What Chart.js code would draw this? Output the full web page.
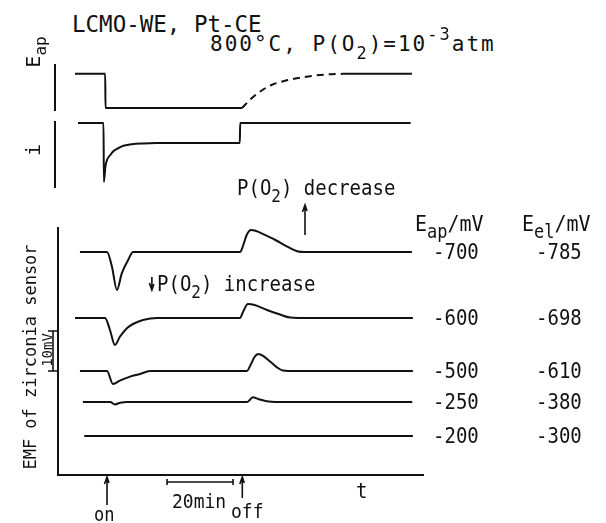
<!DOCTYPE html>
<html>
<head>
<meta charset="utf-8">
<script src="https://cdn.jsdelivr.net/npm/chart.js@4.4.0/dist/chart.umd.min.js"></script>
<style>
  html, body { margin: 0; padding: 0; background: #fff; }
  #fig { position: relative; width: 606px; height: 523px; overflow: hidden;
         font-family: "DejaVu Sans Mono", monospace; color: #111; }
  #fig canvas { position: absolute; left: 0; }
  #eapChart { top: 60px; }
  #iChart { top: 117px; }
  #emfChart { top: 195px; }
  .lbl { position: absolute; white-space: nowrap; line-height: 1; }
  .tall { transform: scaleY(1.1); transform-origin: 0 85%; }
  .sub { position: relative; }
</style>
</head>
<body>
<div id="fig">
  <canvas id="eapChart" width="606" height="55"></canvas>
  <canvas id="iChart" width="606" height="75"></canvas>
  <canvas id="emfChart" width="606" height="328"></canvas>
</div>
<script>
// time in minutes, current switched on at t=0 and off at t=41
const tOn = 0;
const tOff = 41;

// applied voltage (relative units, 1 = rest level)
const eapStepT = [-9.7, -0.55, -0.45, 40.9];
const eapStepV = [1, 1, 0, 0];
const eapDashT = [40.9, 44, 47, 50, 54, 58, 63, 68, 71.5];
const eapDashV = [0, 0.3, 0.52, 0.68, 0.8, 0.88, 0.95, 0.99, 1];
const eapEndT = [71.5, 92.4];
const eapEndV = [1, 1];

// current (relative units, 0 = off)
const curT = [-8.8, -1.05, -0.95, -0.5, 0, 1, 2, 3.5, 5, 7.5, 11, 15, 40.25, 40.35, 92];
const curV = [0, 0, -2.95, -2.2, -1.85, -1.6, -1.4, -1.25, -1.14, -1.06, -1.02, -1, -1, 0, 0];

// EMF of zirconia sensor, change in mV for each applied voltage
const emfT700 = [-8.2, 0, 1.5, 3, 4.5, 6.4, 7.9, 40.3, 41.2, 42.3, 43.6, 45, 48, 51, 54, 57.6, 60, 92.4];
const emfV700 = [0, 0, -3.7, -9.5, -5.3, -2, 0, 0, 1.5, 4.2, 5.5, 5.3, 4.2, 3, 1.6, 0.2, 0, 0];
const emfT600 = [-9.7, -0.6, 0.9, 2.4, 3.9, 6.1, 7.9, 10.9, 15.2, 40.3, 41.2, 42.7, 44.5, 48.5, 52, 55.5, 58, 92.7];
const emfV600 = [0, 0, -3, -6.75, -4.7, -2.5, -1.5, -0.5, 0, 0, 1.5, 3.5, 3.3, 2, 1, 0.1, 0, 0];
const emfT500 = [-8.2, 0, 1.8, 3.9, 7, 10, 13, 42.4, 43.5, 44.7, 45.8, 47.3, 49.5, 51.5, 53.3, 55, 92.7];
const emfV500 = [0, 0, -3.25, -2.4, -1.4, -0.75, 0, 0, 1.5, 3.5, 4.25, 3.8, 2.3, 0.9, 0.1, 0, 0];
const emfT250 = [-7.3, 1, 2.4, 4, 6, 42.5, 44.2, 46, 49, 51, 92.5];
const emfV250 = [0, 0, -0.6, -0.2, 0, 0, 1.2, 0.7, 0.1, 0, 0];
const emfT200 = [-6.9, 92.7];
const emfV200 = [0, 0];

const eapLevels = ["-700", "-600", "-500", "-250", "-200"];
const eelLevels = ["-785", "-698", "-610", "-380", "-300"];

// layout: where each EMF trace sits above the time axis (mV)
const emfOffsets = [55.75, 39.25, 26, 18.25, 9.75];
const emfScaleBarMv = 10;
const timeScaleBarMin = 20;

const ink = "#111";
const onPx = 107;      // pixel of t=0
const pxPerMin = 3.3;
const rightPx = 423;

function pts(ts, vs, off) {
  off = off || 0;
  return ts.map((t, i) => ({ x: t, y: vs[i] + off }));
}

function line(data, extra) {
  return Object.assign({
    data: data,
    borderColor: ink,
    borderWidth: 2,
    pointRadius: 0,
    fill: false,
    cubicInterpolationMode: "monotone",
  }, extra || {});
}

function panelOptions(leftPx, pad, yMin, yMax, showX) {
  const hidden = { display: false, drawTicks: false };
  return {
    responsive: false,
    animation: false,
    layout: { autoPadding: false, padding: pad },
    plugins: { legend: { display: false }, tooltip: { enabled: false } },
    scales: {
      x: {
        type: "linear",
        min: (leftPx - onPx) / pxPerMin,
        max: (rightPx - onPx) / pxPerMin,
        display: showX,
        grid: hidden,
        ticks: { display: false },
        border: { display: true, color: ink, width: 2 },
      },
      y: {
        type: "linear",
        min: yMin,
        max: yMax,
        grid: hidden,
        ticks: { display: false },
        border: { display: true, color: ink, width: 2 },
      },
    },
  };
}

// applied voltage panel
new Chart(document.getElementById("eapChart"), {
  type: "line",
  data: {
    datasets: [
      line(pts(eapStepT, eapStepV)),
      line(pts(eapDashT, eapDashV), { borderDash: [7, 5] }),
      line(pts(eapEndT, eapEndV)),
    ],
  },
  options: panelOptions(55, { left: 55, right: 606 - rightPx, top: 5, bottom: 5 }, -0.06, 1.26, false),
});

// current panel
new Chart(document.getElementById("iChart"), {
  type: "line",
  data: { datasets: [line(pts(curT, curV))] },
  options: panelOptions(55, { left: 55, right: 606 - rightPx, top: 5, bottom: 5 }, -3.2, 0.05, false),
});

// arrows and scale bars under / beside the EMF panel
function arrow(ctx, x, yTip, yTail) {
  const dir = yTail > yTip ? 1 : -1;
  ctx.beginPath();
  ctx.moveTo(x, yTail);
  ctx.lineTo(x, yTip);
  ctx.moveTo(x - 2.5, yTip + dir * 7);
  ctx.lineTo(x, yTip);
  ctx.lineTo(x + 2, yTip + dir * 6);
  ctx.stroke();
}

const markPlugin = {
  id: "marks",
  afterDraw(chart) {
    const { ctx, chartArea, scales } = chart;
    const x = scales.x, y = scales.y;
    ctx.save();
    ctx.strokeStyle = ink;
    ctx.lineWidth = 1.6;
    // 10 mV bar
    const yb0 = y.getPixelForValue(emfOffsets[2]);
    const yb1 = y.getPixelForValue(emfOffsets[2] + emfScaleBarMv);
    const xb = chartArea.left - 5;
    ctx.beginPath();
    ctx.moveTo(xb, yb0); ctx.lineTo(xb, yb1);
    ctx.moveTo(xb - 5, yb0); ctx.lineTo(chartArea.left, yb0);
    ctx.moveTo(xb - 5, yb1); ctx.lineTo(chartArea.left, yb1);
    ctx.stroke();
    // 20 min bar
    const xs0 = x.getPixelForValue(18.2);
    const xs1 = x.getPixelForValue(18.2 + timeScaleBarMin);
    const ys = chartArea.bottom + 7;
    ctx.beginPath();
    ctx.moveTo(xs0, ys); ctx.lineTo(xs1, ys);
    ctx.moveTo(xs0, ys - 3); ctx.lineTo(xs0, ys + 3);
    ctx.moveTo(xs1, ys - 3); ctx.lineTo(xs1, ys + 3);
    ctx.stroke();
    // on / off arrows
    arrow(ctx, x.getPixelForValue(tOn), chartArea.bottom + 2, chartArea.bottom + 30);
    arrow(ctx, x.getPixelForValue(tOff), chartArea.bottom + 2, chartArea.bottom + 23);
    // P(O2) decrease / increase arrows
    arrow(ctx, x.getPixelForValue(60), chartArea.top - 23, chartArea.top + 7);
    arrow(ctx, x.getPixelForValue(13.6), chartArea.top + 62, chartArea.top + 49);
    ctx.restore();
  },
};

const emfChart = new Chart(document.getElementById("emfChart"), {
  type: "line",
  data: {
    datasets: [
      line(pts(emfT700, emfV700, emfOffsets[0])),
      line(pts(emfT600, emfV600, emfOffsets[1])),
      line(pts(emfT500, emfV500, emfOffsets[2])),
      line(pts(emfT250, emfV250, emfOffsets[3])),
      line(pts(emfT200, emfV200, emfOffsets[4])),
    ],
  },
  options: panelOptions(58, { left: 58, right: 606 - rightPx, top: 33, bottom: 48 }, 0, 61.75, true),
  plugins: [markPlugin],
});

// text
const fig = document.getElementById("fig");
function sub(t, size, dy) {
  return '<span class="sub" style="font-size:' + size + 'px;top:' + dy + 'px">' + t + "</span>";
}
function addText(html, left, baseline, size, cls) {
  const d = document.createElement("div");
  d.className = "lbl" + (cls ? " " + cls : "");
  d.style.left = left + "px";
  d.style.top = (baseline - 0.846 * size) + "px";
  d.style.fontSize = size + "px";
  d.innerHTML = html;
  fig.appendChild(d);
  return d;
}
function addRotated(html, cx, cy, size) {
  const d = document.createElement("div");
  d.className = "lbl";
  d.style.left = cx + "px";
  d.style.top = cy + "px";
  d.style.fontSize = size + "px";
  d.style.transform = "translate(-50%,-50%) rotate(-90deg)";
  d.innerHTML = html;
  fig.appendChild(d);
  return d;
}

addText("LCMO-WE, Pt-CE", 72, 32, 22.5);
const line2 = addText("800°C, P(O" + sub("2", 17, 8) + ")=10" + sub("-3", 17, -11) + "atm", 210, 52, 21);
line2.style.letterSpacing = "2px";
addText("P(O" + sub("2", 16, 6) + ") decrease", 237, 195, 19, "tall");
addText("P(O" + sub("2", 16, 6) + ") increase", 157, 291, 19, "tall");
addText("E" + sub("ap", 17, 6) + "/mV", 415, 231, 20, "tall");
addText("E" + sub("el", 17, 6) + "/mV", 522, 231, 20, "tall");
addText("on", 94, 521, 17, "tall");
addText("20min", 172, 508, 18, "tall");
addText("off", 231, 518, 18, "tall");
addText("t", 356, 498, 19, "tall");

addRotated("E" + sub("ap", 16, 6), 33, 52, 20);
addRotated("i", 33, 150, 20);
addRotated("EMF of zirconia sensor", 30, 357, 17);
addRotated("10mV", 47, 350, 14);

const yEmf = emfChart.scales.y;
const canvasTop = 195;
emfOffsets.forEach((off, i) => {
  const yc = canvasTop + yEmf.getPixelForValue(off);
  addText(eapLevels[i], 433, yc + 7, 19, "tall");
  addText(eelLevels[i], 536, yc + 7, 19, "tall");
});
</script>
</body>
</html>
